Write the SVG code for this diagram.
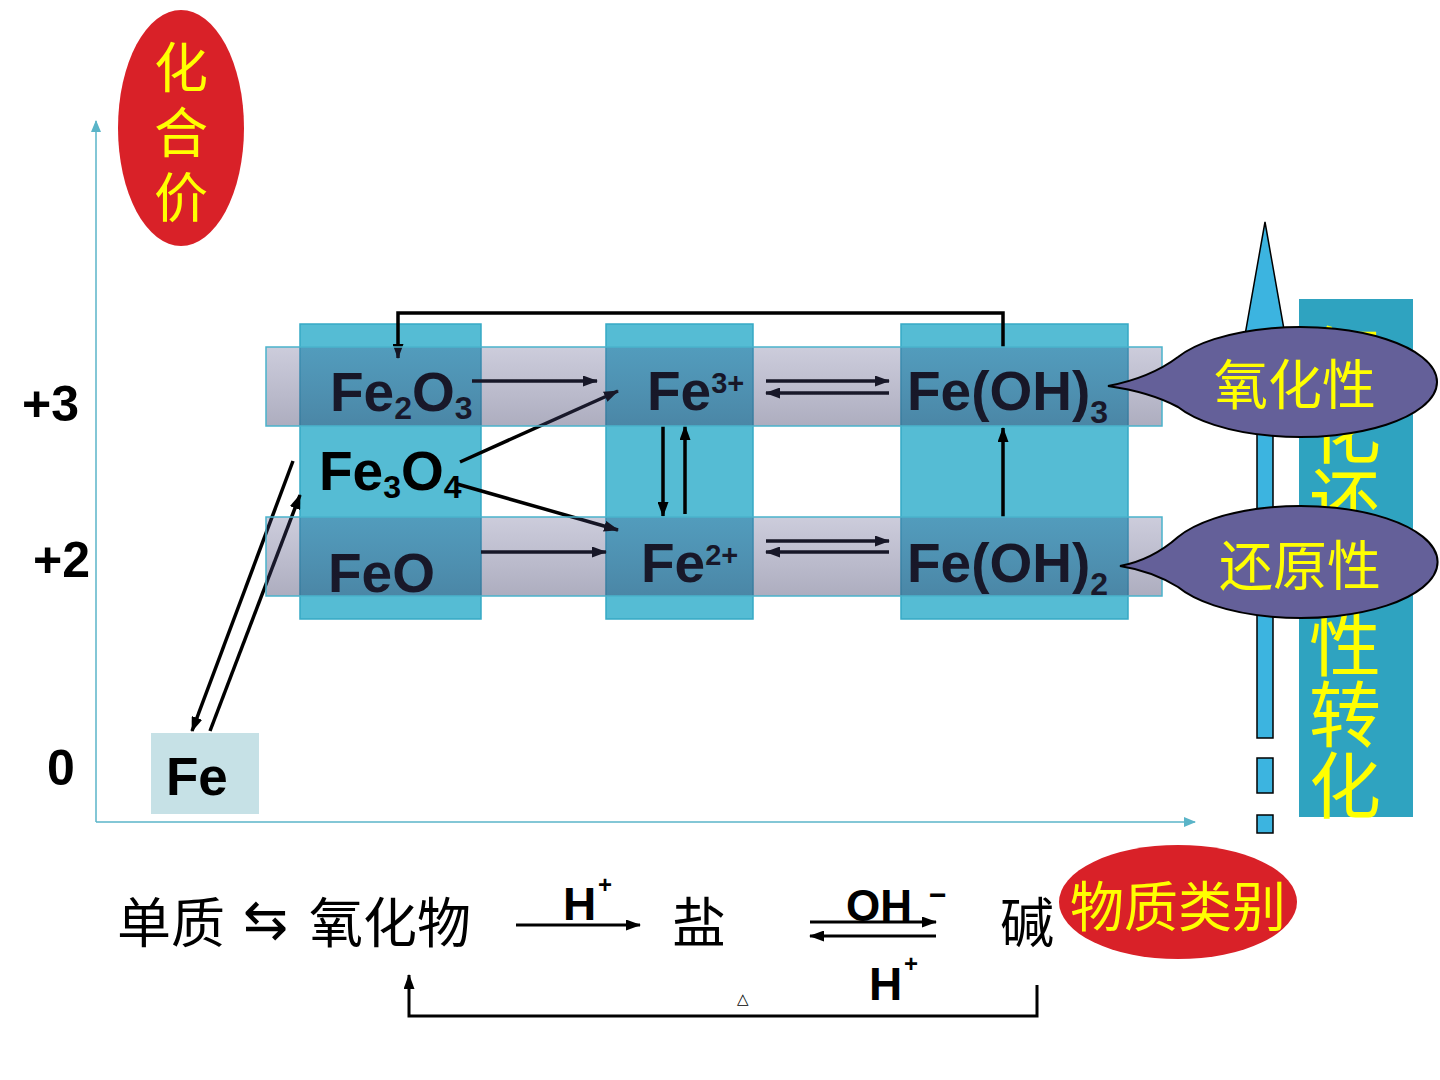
<svg xmlns="http://www.w3.org/2000/svg" width="1440" height="1080" viewBox="0 0 1440 1080">
<defs>
<style>
.ax{stroke:#5ab4c8;stroke-width:1.5;fill:none}
.col{fill:#55bcd4;stroke:#36a9c5;stroke-width:1.5}
.band{fill:url(#bandg);stroke:#4ab3cb;stroke-width:1.5}
.f{font-family:"Liberation Sans",Arial,sans-serif;font-weight:bold;font-size:55px;fill:#000}
.lv{font-family:"Liberation Sans",Arial,sans-serif;font-weight:bold;font-size:50px;fill:#000}
.c{stroke:#000;stroke-width:3.5;fill:none;marker-end:url(#ah)}
.cn{font-family:"Noto Sans CJK SC",sans-serif;font-size:54px;fill:#000}
.yl{font-family:"Noto Sans CJK SC",sans-serif;font-size:54px;fill:#ffff00;text-anchor:middle}
.red{fill:#d92128}
.call{fill:#646099;stroke:#000;stroke-width:2}
.hb{font-family:"Liberation Sans",Arial,sans-serif;font-weight:bold;fill:#000}
</style>
<linearGradient id="bandg" x1="0" y1="0" x2="0" y2="1">
<stop offset="0" stop-color="#4a4a80" stop-opacity="0.28"/>
<stop offset="1" stop-color="#3c3c66" stop-opacity="0.42"/>
</linearGradient>
<marker id="ah" markerUnits="userSpaceOnUse" markerWidth="15" markerHeight="11" refX="14" refY="5.5" orient="auto">
<path d="M0,0 L15,5.5 L0,11 z" fill="#000"/>
</marker>
<marker id="axh" markerUnits="userSpaceOnUse" markerWidth="12" markerHeight="10" refX="11" refY="5" orient="auto">
<path d="M0,0 L12,5 L0,10 z" fill="#5ab4c8"/>
</marker>
</defs>
<rect width="1440" height="1080" fill="#fff"/>

<g id="axes">
<path class="ax" d="M96,822 V121" marker-end="url(#axh)"/>
<path class="ax" d="M96,822 H1195" marker-end="url(#axh)"/>
<text class="lv" x="22" y="421">+3</text>
<text class="lv" x="33" y="577">+2</text>
<text class="lv" x="47" y="785">0</text>
</g>

<g id="columns">
<rect class="col" x="300" y="324" width="181" height="295"/>
<rect class="col" x="606" y="324" width="147" height="295"/>
<rect class="col" x="901" y="324" width="227" height="295"/>
</g>

<g id="node-Fe">
<rect x="151" y="733" width="108" height="81" fill="#c6e1e6"/>
<text class="f" x="166" y="795" style="font-size:53px">Fe</text>
</g>
<g id="node-Fe2O3"><text class="f" x="330" y="411">Fe<tspan font-size="32" dy="8">2</tspan><tspan dy="-8">O</tspan><tspan font-size="32" dy="8">3</tspan></text></g>
<g id="node-Fe3O4"><text class="f" x="319" y="490">Fe<tspan font-size="32" dy="8">3</tspan><tspan dy="-8">O</tspan><tspan font-size="32" dy="8">4</tspan></text></g>
<g id="node-FeO"><text class="f" x="328" y="592">FeO</text></g>
<g id="node-Fe3plus"><text class="f" x="647" y="410">Fe<tspan font-size="29" dy="-17">3+</tspan></text></g>
<g id="node-Fe2plus"><text class="f" x="641" y="582">Fe<tspan font-size="29" dy="-17">2+</tspan></text></g>
<g id="node-FeOH3"><text class="f" x="907" y="410">Fe(OH)<tspan font-size="32" dy="13">3</tspan></text></g>
<g id="node-FeOH2"><text class="f" x="907" y="582">Fe(OH)<tspan font-size="32" dy="13">2</tspan></text></g>

<g id="connectors">
<path class="c" d="M472,381 H597"/>
<path class="c" d="M460,462 L618,391"/>
<path class="c" d="M457,484 L618,530"/>
<path class="c" d="M481,552 H606"/>
<path class="c" d="M663,426 V516"/>
<path class="c" d="M685,514 V426"/>
<path class="c" d="M766,381 H889"/>
<path class="c" d="M889,393 H766"/>
<path class="c" d="M766,541 H889"/>
<path class="c" d="M889,552 H766"/>
<path class="c" d="M1003,517 V428"/>
<path class="c" d="M1003,347 V313 H398 V358"/>
<path class="c" d="M293,461 L192,731"/>
<path class="c" d="M210,731 L300,495"/>
</g>

<g id="bands">
<rect class="band" x="266" y="347" width="896" height="79"/>
<rect class="band" x="266" y="517" width="896" height="79"/>
</g>

<g id="redox-arrow">
<path d="M1265,222 L1285,335 L1273,335 L1273,738 L1257,738 L1257,335 L1245,335 Z" fill="#3cb4e0" stroke="#000" stroke-width="1.5"/>
<rect x="1257" y="758" width="16" height="35" fill="#3cb4e0" stroke="#000" stroke-width="1.5"/>
<rect x="1257" y="815" width="16" height="18" fill="#3cb4e0" stroke="#000" stroke-width="1.5"/>
</g>

<g id="redox-column">
<rect x="1299" y="299" width="114" height="518" fill="#2fa3c0"/>
<text font-family="'Noto Sans CJK SC',sans-serif" font-size="72" fill="#ffff00" text-anchor="middle">
<tspan x="1345" y="386">氧</tspan><tspan x="1345" y="457">化</tspan><tspan x="1345" y="528">还</tspan><tspan x="1345" y="599">原</tspan><tspan x="1345" y="670">性</tspan><tspan x="1345" y="741">转</tspan><tspan x="1345" y="812">化</tspan>
</text>
</g>

<g id="callout-oxidizing">
<path class="call" d="M1178,357 Q1150,378 1108,386 Q1150,392 1178,407 A137,55 0 1 0 1178,357 Z"/>
<text class="yl" x="1295" y="405">氧化性</text>
</g>
<g id="callout-reducing">
<path class="call" d="M1178,537 Q1152,560 1120,566 Q1152,571 1178,587 A137,56 0 1 0 1178,537 Z"/>
<text class="yl" x="1300" y="586">还原性</text>
</g>

<g id="label-valence">
<ellipse class="red" cx="181" cy="128" rx="63" ry="118"/>
<text class="yl" x="181"><tspan x="181" y="88">化</tspan><tspan x="181" y="153">合</tspan><tspan x="181" y="218">价</tspan></text>
</g>

<g id="label-category">
<ellipse class="red" cx="1178" cy="902" rx="119" ry="57"/>
<text class="yl" x="1178" y="927">物质类别</text>
</g>

<g id="category-row">
<text class="cn" x="117" y="943">单质</text>
<text x="243" y="938" font-family="'DejaVu Sans',sans-serif" font-size="54" fill="#000">⇆</text>
<text class="cn" x="309" y="943">氧化物</text>
<text class="cn" x="672" y="943">盐</text>
<text class="cn" x="1000" y="943">碱</text>
<text class="hb" x="563" y="920" font-size="46">H</text>
<text class="hb" x="598" y="893" font-size="24">+</text>
<text class="hb" x="846" y="921" font-size="44">OH</text>
<text class="hb" x="929" y="905" font-size="30">−</text>
<text class="hb" x="869" y="1000" font-size="46">H</text>
<text class="hb" x="904" y="972" font-size="24">+</text>
<text x="737" y="1004" font-family="'DejaVu Sans',sans-serif" font-size="15" fill="#000">△</text>
</g>

<g id="category-connectors">
<path class="c" style="stroke-width:3" d="M516,925 H640"/>
<path class="c" style="stroke-width:3" d="M810,922 H936"/>
<path class="c" style="stroke-width:3" d="M936,936 H810"/>
<path class="c" style="stroke-width:3" d="M1037,985 V1016 H409 V975"/>
</g>
</svg>
